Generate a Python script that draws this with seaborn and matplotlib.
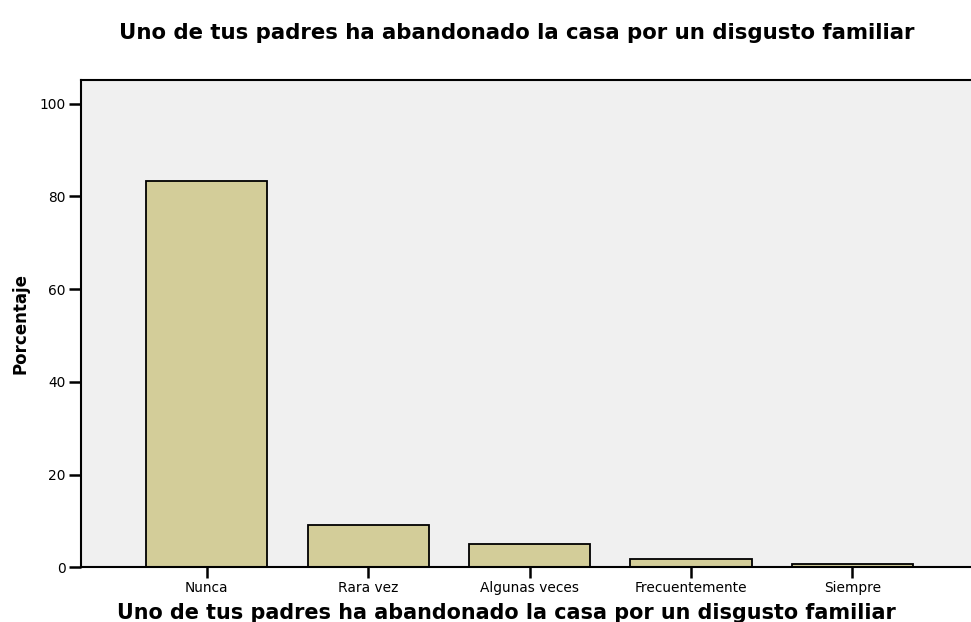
import matplotlib
matplotlib.use("Agg")
import matplotlib.pyplot as plt
import pandas as pd
import seaborn as sns

categories = ["Nunca", "Rara vez", "Algunas veces", "Frecuentemente", "Siempre"]
percentages = [83.3, 9.2, 5.0, 1.7, 0.8]
y_ticks = [0, 20, 40, 60, 80, 100]
title = "Uno de tus padres ha abandonado la casa por un disgusto familiar"

df = pd.DataFrame({"categoria": categories, "porcentaje": percentages})

sns.set_style("white")
plt.rcParams["font.family"] = ["DejaVu Sans"]
plt.rcParams["text.color"] = "black"
plt.rcParams["axes.labelcolor"] = "black"
plt.rcParams["xtick.color"] = "black"
plt.rcParams["ytick.color"] = "black"

fig = plt.figure(figsize=(9.71, 6.22), dpi=100)
ax = fig.add_axes([0.0834, 0.088, 0.9166, 0.784])
ax.set_facecolor("#f0f0f0")

sns.barplot(data=df, x="categoria", y="porcentaje", color="#d3cd99",
            saturation=1, edgecolor="black", linewidth=1.3, width=0.75, ax=ax)

ax.set_xlim(-0.78, 4.735)
ax.set_ylim(0, 105.2)
ax.set_yticks(y_ticks)
ax.tick_params(axis="both", which="major", bottom=True, left=True, direction="out",
               length=9, width=1.8, color="black", labelcolor="black",
               labelsize=9.9, pad=2)
ax.tick_params(axis="x", length=8, pad=2)

for side in ["left", "bottom", "top"]:
    ax.spines[side].set_visible(True)
    ax.spines[side].set_color("black")
    ax.spines[side].set_linewidth(1.5)
ax.spines["right"].set_visible(False)

ax.set_xlabel(title, fontsize=14.95, fontweight="bold", labelpad=5.5)
ax.xaxis.label.set_x(0.4775)
ax.set_ylabel("Porcentaje", fontsize=12, fontweight="bold", labelpad=7)
fig.text(0.532, 0.947, title, ha="center", va="center", fontsize=15.3,
         fontweight="bold")

fig.savefig("out.png", dpi=100)
